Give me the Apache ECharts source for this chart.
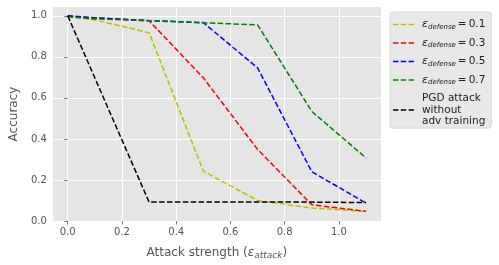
<!DOCTYPE html>
<html><head><meta charset="utf-8">
<script src="https://cdn.jsdelivr.net/npm/echarts@6/dist/echarts.min.js"></script>
<style>html,body{margin:0;padding:0;background:#fff}#c{width:499px;height:265px}</style>
</head><body><div id="c"></div>
<script>
const xs = [0, 0.1, 0.3, 0.5, 0.7, 0.9, 1.1];
const acc01 = [1.0, 0.98, 0.918, 0.243, 0.10, 0.063, 0.047];
const acc03 = [1.0, 0.99, 0.976, 0.698, 0.349, 0.079, 0.047];
const acc05 = [1.0, 0.99, 0.977, 0.967, 0.746, 0.240, 0.087];
const acc07 = [0.995, 0.985, 0.976, 0.966, 0.956, 0.534, 0.307];
const accPGD = [1.0, null, 0.092, 0.092, 0.092, 0.092, 0.09];
const xTicks = [0, 0.2, 0.4, 0.6, 0.8, 1.0];
const yTicks = [0, 0.2, 0.4, 0.6, 0.8, 1.0];
const names = ['d01', 'd03', 'd05', 'd07', 'pgd'];
const labels = {
  d01: '{e|ε}{s|defense}{q|=}{r|0.1}',
  d03: '{e|ε}{s|defense}{q|=}{r|0.3}',
  d05: '{e|ε}{s|defense}{q|=}{r|0.5}',
  d07: '{e|ε}{s|defense}{q|=}{r|0.7}',
  pgd: '{n|PGD attack}\n{n|without}\n{n|adv training}'
};
const colors = ['#bfbf00', '#ff0000', '#0000ff', '#008000', '#000000'];
const series = [acc01, acc03, acc05, acc07, accPGD];

const chart = echarts.init(document.getElementById('c'), null, {renderer: 'canvas'});
const font = 'DejaVu Sans';
const dashIcon = 'path://M0,0h5.5v1.5h-5.5z M7.9,0h5.5v1.5h-5.5z M15.8,0h5.5v1.5h-5.5z';
chart.setOption({
  animation: false,
  textStyle: {fontFamily: font},
  grid: {left: 48, right: 118, top: 7, bottom: 42, show: true, backgroundColor: '#e5e5e5', borderWidth: 0},
  xAxis: {
    type: 'value', min: -0.055, max: 1.155,
    axisLine: {show: false},
    axisTick: {show: true, length: 3.5, lineStyle: {color: '#555', width: 0.8}, customValues: xTicks},
    axisLabel: {color: '#555', fontSize: 10, fontFamily: font, margin: 6, customValues: xTicks,
      formatter: v => v.toFixed(1)},
    splitLine: {show: true, lineStyle: {color: '#fff', width: 1}},
    name: '{n|Attack strength (}{e|ε}{s|attack}{n|)}',
    nameLocation: 'middle', nameGap: 24,
    nameTextStyle: {rich: {
      n: {fontSize: 12, color: '#555', fontFamily: font},
      e: {fontSize: 12, color: '#555', fontFamily: font, fontStyle: 'italic'},
      s: {fontSize: 9, color: '#555', fontFamily: font, fontStyle: 'italic', padding: [6, 0, 0, 0]}
    }}
  },
  yAxis: {
    type: 'value', min: 0, max: 1.043,
    axisLine: {show: false},
    axisTick: {show: true, length: 3.5, lineStyle: {color: '#555', width: 0.8}, customValues: yTicks},
    axisLabel: {color: '#555', fontSize: 10, fontFamily: font, margin: 6, customValues: yTicks,
      formatter: v => v.toFixed(1)},
    splitLine: {show: true, lineStyle: {color: '#fff', width: 1}},
    name: 'Accuracy', nameLocation: 'middle', nameGap: 31,
    nameTextStyle: {fontSize: 12, color: '#555', fontFamily: font}
  },
  legend: {
    orient: 'vertical', left: 390, top: 12,
    backgroundColor: '#e8e8e8', borderColor: '#d0d0d0', borderWidth: 0.8, borderRadius: 3,
    padding: [7, 6, 1, 3], itemGap: 7, itemWidth: 21, itemHeight: 1.5,
    icon: dashIcon,
    formatter: n => labels[n],
    textStyle: {color: '#222', fontSize: 10, padding: [0, 0, 0, 3], rich: {
      n: {fontSize: 10.5, color: '#222', fontFamily: font, lineHeight: 11.6},
      e: {fontSize: 11, color: '#222', fontFamily: font, fontStyle: 'italic', lineHeight: 13},
      s: {fontSize: 7, color: '#222', fontFamily: font, fontStyle: 'italic', padding: [5, 0, 0, 0]},
      q: {fontSize: 10.5, color: '#222', fontFamily: font, padding: [0, 0, 0, 2], lineHeight: 13},
      r: {fontSize: 10.5, color: '#222', fontFamily: font, padding: [0, 0, 0, 2], lineHeight: 13}
    }},
    data: names
  },
  series: series.map((vals, i) => ({
    name: names[i], type: 'line', symbol: 'none', connectNulls: true,
    data: xs.map((x, j) => [x, vals[j]]),
    lineStyle: {color: colors[i], width: 1.5, type: [5.5, 2.4]},
    itemStyle: {color: colors[i]}
  }))
});
</script></body></html>
